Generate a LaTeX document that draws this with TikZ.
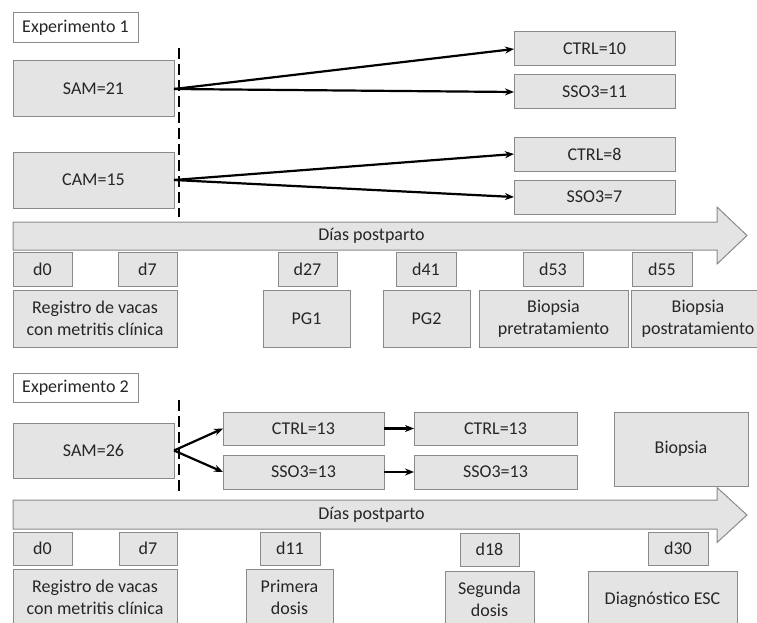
\documentclass[tikz,border=0pt]{standalone}
\usepackage{fontspec}
\setmainfont{Carlito}
\usetikzlibrary{arrows.meta}
\definecolor{boxfill}{HTML}{E4E4E4}
\definecolor{boxline}{HTML}{8A8A8A}
\definecolor{txt}{HTML}{262626}
\begin{document}
\begin{tikzpicture}[x=1pt,y=-1pt,
  every node/.style={font=\fontsize{18}{22}\selectfont, text=txt, inner sep=0pt, outer sep=0pt, align=center},
  gbox/.style={draw=boxline, fill=boxfill, line width=1pt},
  wbox/.style={draw=boxline, fill=white, line width=1pt},
  conn/.style={draw=black, line width=2.2pt, -{Stealth[length=9pt,width=7pt]}},
  cut/.style={draw=black, line width=2.3pt, dash pattern=on 11pt off 5pt},
  tarrow/.style={draw=boxline, fill=boxfill, line width=1pt, line join=miter}]
\path[use as bounding box] (0,0) rectangle (757,623);
\clip (0,0) rectangle (757,623);

% ---------------- Experimento 1 ----------------
\node[wbox, minimum width=125pt, minimum height=30pt] (e1) at (75.5,28) {Experimento 1};
\node[gbox, minimum width=161pt, minimum height=56pt] (sam1) at (93.5,89) {SAM=21};
\node[gbox, minimum width=161pt, minimum height=56pt] (cam1) at (93.5,180) {CAM=15};
\coordinate (cut1a) at (179,48);
\coordinate (cut1b) at (179,217);
\draw[cut] (cut1a) -- (cut1b);

\node[gbox, minimum width=161pt, minimum height=34pt] (ctrl10) at (594.5,49) {CTRL=10};
\node[gbox, minimum width=161pt, minimum height=34pt] (sso11) at (594.5,92) {SSO3=11};
\node[gbox, minimum width=161pt, minimum height=34pt] (ctrl8) at (594.5,154) {CTRL=8};
\node[gbox, minimum width=161pt, minimum height=34pt] (sso7) at (594.5,197) {SSO3=7};

\draw[conn] (sam1.east) -- (ctrl10.west);
\draw[conn] (sam1.east) -- (sso11.west);
\draw[conn] (cam1.east) -- (ctrl8.west);
\draw[conn] (cam1.east) -- (sso7.west);

\path[tarrow] (13,222) -- (717,222) -- (717,207) -- (747,235.5) -- (717,264) -- (717,250) -- (13,250) -- cycle;
\node (dias1) at (371.5,236) {Días postparto};

\node[gbox, minimum width=59pt, minimum height=34pt] (a0) at (42.5,269) {d0};
\node[gbox, minimum width=59pt, minimum height=34pt] (a7) at (147.5,269) {d7};
\node[gbox, minimum width=59pt, minimum height=34pt] (a27) at (307.5,269) {d27};
\node[gbox, minimum width=60pt, minimum height=34pt] (a41) at (426,269) {d41};
\node[gbox, minimum width=60pt, minimum height=34pt] (a53) at (553,269) {d53};
\node[gbox, minimum width=60pt, minimum height=34pt] (a55) at (662,269) {d55};

\node[gbox, minimum width=164pt, minimum height=57pt] (reg1) at (95,318.5) {Registro de vacas\\con metritis clínica};
\node[gbox, minimum width=87pt, minimum height=57pt] (pg1) at (306.5,318.5) {PG1};
\node[gbox, minimum width=87pt, minimum height=57pt] (pg2) at (426.5,318.5) {PG2};
\node[gbox, minimum width=149pt, minimum height=57pt] (bpre) at (553.5,318.5) {Biopsia\\pretratamiento};
\node[gbox, minimum width=134pt, minimum height=57pt] (bpost) at (698,318.5) {Biopsia\\postratamiento};

% ---------------- Experimento 2 ----------------
\node[wbox, minimum width=125pt, minimum height=29pt] (e2) at (75.5,387.5) {Experimento 2};
\node[gbox, minimum width=161pt, minimum height=55pt] (sam2) at (93.5,450.5) {SAM=26};
\coordinate (cut2a) at (179,400);
\coordinate (cut2b) at (179,495);
\draw[cut] (cut2a) -- (cut2b);

\node[gbox, minimum width=161pt, minimum height=33pt] (ctrl13a) at (303.5,428.5) {CTRL=13};
\node[gbox, minimum width=161pt, minimum height=34pt] (sso13a) at (303.5,472) {SSO3=13};
\node[gbox, minimum width=163pt, minimum height=33pt] (ctrl13b) at (495.5,428.5) {CTRL=13};
\node[gbox, minimum width=163pt, minimum height=34pt] (sso13b) at (495.5,472) {SSO3=13};
\node[gbox, minimum width=134pt, minimum height=74pt] (biop) at (681,449) {Biopsia};

\draw[conn] (sam2.east) -- (ctrl13a.west);
\draw[conn] (sam2.east) -- (sso13a.west);
\draw[conn] (ctrl13a.east) -- (ctrl13b.west);
\draw[conn] (sso13a.east) -- (sso13b.west);

\path[tarrow] (13,500) -- (717,500) -- (717,487.5) -- (747,515) -- (717,542.5) -- (717,529) -- (13,529) -- cycle;
\node (dias2) at (371.5,515) {Días postparto};

\node[gbox, minimum width=59pt, minimum height=33pt] (b0) at (42.5,548.5) {d0};
\node[gbox, minimum width=58pt, minimum height=33pt] (b7) at (148,548.5) {d7};
\node[gbox, minimum width=60pt, minimum height=33pt] (b11) at (290,548.5) {d11};
\node[gbox, minimum width=59pt, minimum height=33pt] (b18) at (489.5,549.5) {d18};
\node[gbox, minimum width=60pt, minimum height=33pt] (b30) at (678,548.5) {d30};

\node[gbox, minimum width=164pt, minimum height=57pt] (reg2) at (95,597.5) {Registro de vacas\\con metritis clínica};
\node[gbox, minimum width=87pt, minimum height=57pt] (prim) at (289.5,597.5) {Primera\\dosis};
\node[gbox, minimum width=89pt, minimum height=57pt] (seg) at (489.5,599.5) {Segunda\\dosis};
\node[gbox, minimum width=149pt, minimum height=57pt] (diag) at (662.5,599.5) {Diagnóstico ESC};
\end{tikzpicture}
\end{document}
